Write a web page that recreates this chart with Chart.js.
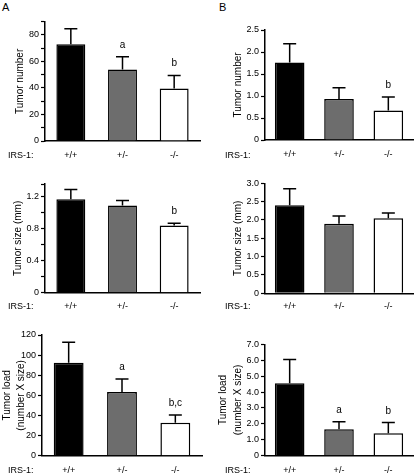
<!DOCTYPE html>
<html>
<head>
<meta charset="utf-8">
<script src="https://cdn.jsdelivr.net/npm/chart.js@4"></script>
<style>
  body { margin: 0; background: #fff; }
  #wrap { position: relative; width: 420px; height: 475px; font-family: 'Liberation Sans', Arial, sans-serif; color: #000; }
  #wrap canvas { position: absolute; }
  .txt { position: absolute; font-size: 9px; line-height: 10px; white-space: nowrap; }
  .panel { position: absolute; font-size: 11px; line-height: 12px; }
</style>
</head>
<body>
<div id="wrap">
  <div class="panel" style="left:2px; top:1px;">A</div>
  <div class="panel" style="left:219px; top:1px;">B</div>

  <canvas id="a1" width="210" height="160" style="left:0; top:0;"></canvas>
  <canvas id="b1" width="210" height="160" style="left:210px; top:0;"></canvas>
  <canvas id="a2" width="210" height="155" style="left:0; top:160px;"></canvas>
  <canvas id="b2" width="210" height="155" style="left:210px; top:160px;"></canvas>
  <canvas id="a3" width="210" height="160" style="left:0; top:315px;"></canvas>
  <canvas id="b3" width="210" height="160" style="left:210px; top:315px;"></canvas>

  <div class="txt" style="left:8px; top:150px;">IRS-1:</div>
  <div class="txt" style="left:225px; top:150px;">IRS-1:</div>
  <div class="txt" style="left:8px; top:301px;">IRS-1:</div>
  <div class="txt" style="left:225px; top:301px;">IRS-1:</div>
  <div class="txt" style="left:8px; top:465px;">IRS-1:</div>
  <div class="txt" style="left:225px; top:465px;">IRS-1:</div>
</div>

<script>
// ---- data ----
const genotypes = ['+/+', '+/-', '-/-'];
const barColors = ['#000000', '#6d6d6d', '#ffffff'];

// A: tumor number / size / load
const numberA = [73, 54, 39.6];
const numberASem = [11.6, 9.5, 9.9];
const numberALetters = ['', 'a', 'b'];

const sizeA = [1.17, 1.09, 0.84];
const sizeASem = [0.12, 0.065, 0.03];
const sizeALetters = ['', '', 'b'];

const loadA = [92.5, 63.3, 32.8];
const loadASem = [20.2, 12.9, 7.7];
const loadALetters = ['', 'a', 'b,c'];

// B: tumor number / size / load
const numberB = [1.76, 0.93, 0.67];
const numberBSem = [0.43, 0.26, 0.31];
const numberBLetters = ['', '', 'b'];

const sizeB = [2.4, 1.9, 2.05];
const sizeBSem = [0.45, 0.21, 0.14];
const sizeBLetters = ['', '', ''];

const loadB = [4.55, 1.66, 1.41];
const loadBSem = [1.5, 0.48, 0.67];
const loadBLetters = ['', 'a', 'b'];

const FONT = 'Liberation Sans';

// error bars (upper only) + significance letters
const errorBarPlugin = {
  id: 'errorBars',
  afterDatasetsDraw(chart) {
    const { ctx } = chart;
    const yScale = chart.scales.y;
    const meta = chart.getDatasetMeta(0);
    const ds = chart.data.datasets[0];
    ctx.save();
    ctx.strokeStyle = '#000';
    ctx.lineWidth = 1.5;
    meta.data.forEach((bar, i) => {
      const yTop = yScale.getPixelForValue(ds.data[i] + ds.sem[i]);
      const yBar = yScale.getPixelForValue(ds.data[i]);
      ctx.beginPath();
      ctx.moveTo(bar.x, yBar);
      ctx.lineTo(bar.x, yTop);
      ctx.moveTo(bar.x - 6.5, yTop);
      ctx.lineTo(bar.x + 6.5, yTop);
      ctx.stroke();
      if (ds.letters[i]) {
        ctx.fillStyle = '#000';
        ctx.font = '10px ' + FONT;
        ctx.textAlign = 'center';
        ctx.textBaseline = 'alphabetic';
        ctx.fillText(ds.letters[i], bar.x, yTop - 9);
      }
    });
    ctx.restore();
  }
};

function panel(id, p) {
  const canvas = document.getElementById(id);
  const W = canvas.width, H = canvas.height;
  new Chart(canvas, {
    type: 'bar',
    data: {
      labels: genotypes,
      datasets: [{
        data: p.values,
        sem: p.sem,
        letters: p.letters,
        backgroundColor: barColors,
        borderColor: '#000',
        borderWidth: 1.5,
        borderSkipped: 'bottom',
        categoryPercentage: 1,
        barPercentage: p.barPct
      }]
    },
    options: {
      responsive: false,
      animation: false,
      devicePixelRatio: 1,
      layout: { padding: { left: 0, top: p.top, right: W - p.right, bottom: 0 } },
      plugins: { legend: { display: false }, tooltip: { enabled: false } },
      scales: {
        x: {
          grid: { display: false, drawTicks: false },
          border: { color: '#000', width: 1.5 },
          ticks: { color: '#000', font: { family: FONT, size: 9 }, padding: p.xPad },
          afterFit: s => { s.height = H - p.bottom; }
        },
        y: {
          min: 0,
          max: p.max,
          ticks: {
            stepSize: p.step,
            autoSkip: false,
            color: '#000',
            padding: 2,
            font: { family: FONT, size: 9 },
            callback: p.tickLabel
          },
          grid: { drawOnChartArea: false, drawTicks: true, tickLength: 4, tickColor: '#000', tickWidth: 1.2 },
          border: { color: '#000', width: 1.5 },
          title: {
            display: true,
            text: p.title,
            color: '#000',
            font: { family: FONT, size: 10, lineHeight: p.titleLH || 1.2 },
            padding: { top: p.titlePad, bottom: 0 }
          },
          afterFit: s => { s.width = p.left; }
        }
      }
    },
    plugins: [errorBarPlugin]
  });
}

const oneDec = v => (v === 0 ? '0' : v.toFixed(1));

panel('a1', {
  values: numberA, sem: numberASem, letters: numberALetters,
  max: 90, step: 10, tickLabel: v => (v % 20 === 0 ? String(v) : ''),
  title: 'Tumor number', titlePad: 14,
  left: 45, right: 200, top: 21.7, bottom: 141, xPad: 9, barPct: 0.56
});
panel('b1', {
  values: numberB, sem: numberBSem, letters: numberBLetters,
  max: 2.5, step: 0.5, tickLabel: oneDec,
  title: 'Tumor number', titlePad: 22,
  left: 55, right: 203, top: 30, bottom: 140, xPad: 9, barPct: 0.6
});
panel('a2', {
  values: sizeA, sem: sizeASem, letters: sizeALetters,
  max: 1.36, step: 0.2, tickLabel: v => {
    const r = Math.round(v * 10) / 10;
    if (Math.abs(v - r) > 1e-6) return '';
    if (r === 0) return '0';
    return (Math.round(r * 10) % 4 === 0) ? r.toFixed(1) : '';
  },
  title: 'Tumor size (mm)', titlePad: 12,
  left: 45, right: 200, top: 24, bottom: 132.7, xPad: 8, barPct: 0.56
});
panel('b2', {
  values: sizeB, sem: sizeBSem, letters: sizeBLetters,
  max: 3.0, step: 0.5, tickLabel: oneDec,
  title: 'Tumor size (mm)', titlePad: 22,
  left: 55, right: 203, top: 23.3, bottom: 133.3, xPad: 8, barPct: 0.6
});
panel('a3', {
  values: loadA, sem: loadASem, letters: loadALetters,
  max: 120, step: 20, tickLabel: v => String(v),
  title: ['Tumor load', '(number X size)'], titlePad: 0, titleLH: 1.4,
  left: 42, right: 202, top: 20, bottom: 140.7, xPad: 9, barPct: 0.56
});
panel('b3', {
  values: loadB, sem: loadBSem, letters: loadBLetters,
  max: 7.0, step: 1.0, tickLabel: oneDec,
  title: ['Tumor load', '(number X size)'], titlePad: 6, titleLH: 1.5,
  left: 55, right: 203, top: 29.3, bottom: 140.7, xPad: 9, barPct: 0.6
});
</script>
</body>
</html>
